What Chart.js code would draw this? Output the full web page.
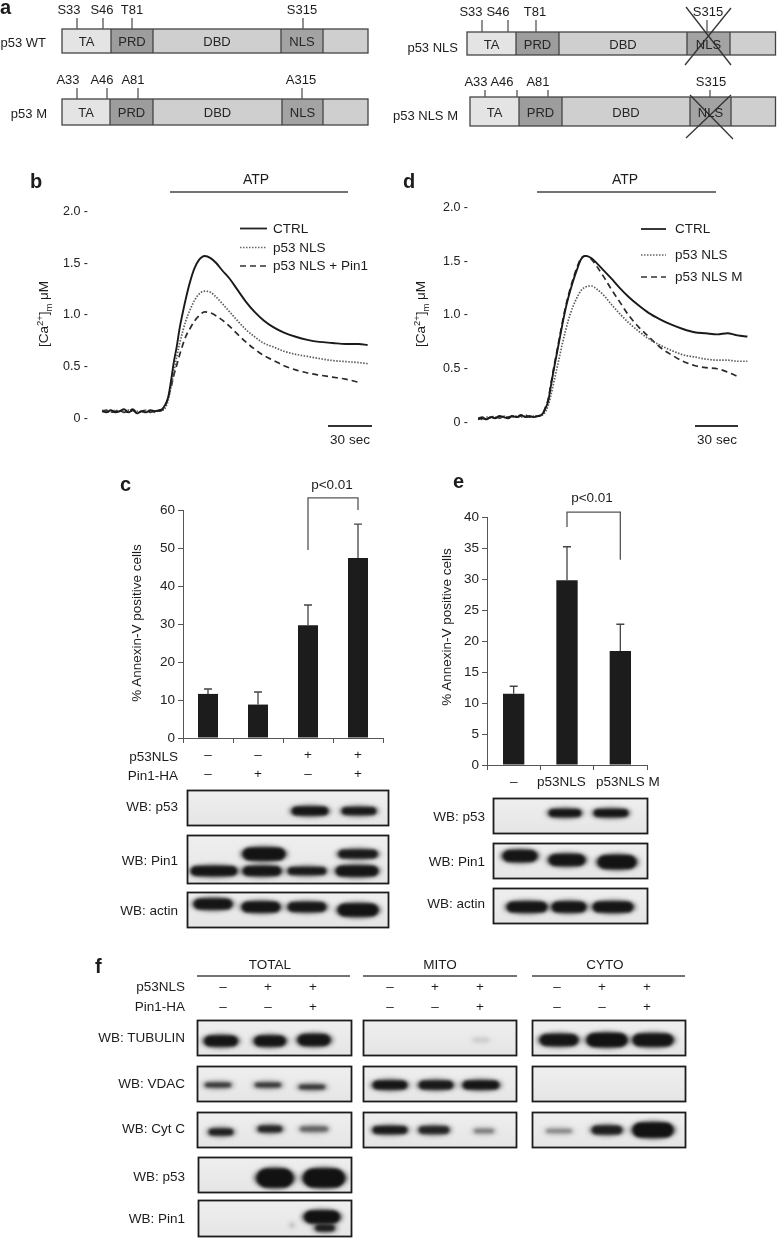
<!DOCTYPE html>
<html><head><meta charset="utf-8">
<script src="https://cdn.jsdelivr.net/npm/chart.js@4.4.1/dist/chart.umd.min.js"></script>
<style>
html,body{margin:0;padding:0;background:#fff}
#fig{position:relative;width:777px;height:1239px;overflow:hidden;font-family:'Liberation Sans',Arial,Helvetica,sans-serif;color:#1c1c1c;background:#fff}
.t{position:absolute;white-space:nowrap;line-height:1;}
canvas{position:absolute}
svg{position:absolute;left:0;top:0}
sup,sub{font-size:70%;line-height:0}
</style></head><body>
<div id="fig">
<canvas id="wb" width="777" height="1239" style="left:0;top:0"></canvas>
<canvas id="chB" width="340" height="250" style="left:40px;top:190px"></canvas>
<canvas id="chD" width="345" height="250" style="left:420px;top:190px"></canvas>
<canvas id="chC" width="300" height="310" style="left:90px;top:480px"></canvas>
<canvas id="chE" width="240" height="310" style="left:450px;top:490px"></canvas>
<svg id="deco" width="777" height="1239"></svg>
</div>
<script>
// ---------------- DATA ----------------
// panel b : mitochondrial Ca2+ traces (time in s, value in µM)
const timeB = [0,3,6,9,12,15,18,21,24,27,30,33,36,39,41,43,45,47,49,51,53,55,57,60,63,66,70,74,78,82,87,92,98,104,110,117,124,132,140,148,157,166,175,181];
const ctrlB = [0.07,0.06,0.08,0.06,0.07,0.09,0.06,0.08,0.05,0.07,0.06,0.08,0.07,0.08,
  0.09,0.13,0.2,0.36,0.55,0.7,0.88,1.02,1.15,
  1.32,1.45,1.53,1.57,1.55,1.5,1.43,1.35,1.25,1.13,
  1.03,0.95,0.88,0.83,0.79,0.76,0.74,0.73,0.72,0.72,0.71];
const nlsB = [0.08,0.07,0.06,0.08,0.07,0.06,0.08,0.07,0.07,0.06,0.08,0.07,0.06,0.08,
  0.08,0.1,0.17,0.3,0.45,0.6,0.73,0.84,0.94,
  1.05,1.14,1.2,1.23,1.22,1.17,1.11,1.03,0.95,0.86,
  0.79,0.73,0.69,0.65,0.62,0.6,0.58,0.56,0.55,0.54,0.53];
const nlsPin1B = [0.07,0.08,0.06,0.07,0.08,0.06,0.07,0.09,0.06,0.07,0.08,0.06,0.07,0.07,
  0.08,0.12,0.2,0.3,0.42,0.52,0.62,0.71,0.79,
  0.87,0.94,0.99,1.03,1.02,0.99,0.95,0.89,0.82,0.74,
  0.67,0.61,0.56,0.51,0.47,0.44,0.42,0.4,0.38,0.35,null];
const yTickLabelsB = ['0 -','0.5 -','1.0 -','1.5 -','2.0 -'];
const seriesNamesB = ['CTRL','p53 NLS','p53 NLS + Pin1'];

// panel d
const timeD = [0,3,6,9,12,15,18,21,24,27,30,33,36,39,42,45,47,49,51,53,55,57,59,61,63,66,69,72,75,79,83,88,93,99,105,112,119,127,135,143,151,159,167,174,181,188];
const ctrlD = [0.03,0.04,0.03,0.05,0.04,0.06,0.05,0.04,0.06,0.05,0.07,0.05,0.06,0.05,0.06,
  0.08,
  0.13,0.2,0.35,0.5,0.64,0.78,0.92,1.05,1.16,
  1.3,1.42,1.52,1.55,
  1.53,1.48,1.41,1.34,1.25,1.17,1.09,1.02,0.96,0.91,0.87,0.84,0.83,0.82,0.83,0.81,0.80];
const nlsD = [0.04,0.03,0.05,0.04,0.05,0.04,0.06,0.05,0.05,0.06,0.05,0.06,0.05,0.06,0.06,
  0.07,
  0.1,0.16,0.26,0.38,0.5,0.62,0.74,0.85,0.95,
  1.07,1.16,1.23,1.26,
  1.27,1.24,1.18,1.1,1.01,0.93,0.85,0.78,0.72,0.67,0.63,0.61,0.59,0.58,0.58,0.57,0.57];
const nlsMD = [0.04,0.05,0.04,0.05,0.06,0.04,0.06,0.05,0.06,0.05,0.06,0.07,0.05,0.06,0.06,
  0.08,
  0.14,0.22,0.37,0.52,0.66,0.8,0.94,1.07,1.18,
  1.32,1.44,1.53,1.55,
  1.52,1.45,1.35,1.24,1.12,1.0,0.89,0.8,0.7,0.63,0.57,0.53,0.51,0.5,0.47,0.43,null];
const yTickLabelsD = ['0 -','0.5 -','1.0 -','1.5 -','2.0 -'];
const seriesNamesD = ['CTRL','p53 NLS','p53 NLS M'];

// panel c : % Annexin-V positive cells
const categoriesC = [['–','–'],['–','+'],['+','–'],['+','+']];
const valuesC = [11.6, 8.8, 29.7, 47.4];
const errorsC = [1.3, 3.3, 5.3, 8.9];
// panel e
const categoriesE = ['–','p53NLS','p53NLS M'];
const valuesE = [11.5, 29.8, 18.4];
const errorsE = [1.2, 5.4, 4.3];

// panel f treatment signs
const fP53NLS = ['–','+','+'];
const fPin1HA = ['–','–','+'];

// western blot band intensities: one row per band level, one value per lane (0 = no band)
const wbC_p53   = [[0, 0, 0.95, 0.9]];
const wbC_pin1  = [[0, 0.97, 0, 0.9], [0.95, 0.95, 0.9, 0.95]];
const wbC_actin = [[0.95, 0.95, 0.93, 0.97]];
const wbE_p53   = [[0, 0.95, 0.95]];
const wbE_pin1  = [[0.95, 0.95, 0.97]];
const wbE_actin = [[0.95, 0.95, 0.95]];
const wbTot_tub  = [[0.95, 0.95, 0.95]];
const wbTot_vdac = [[0.7, 0.7, 0.7]];
const wbTot_cytc = [[0.85, 0.8, 0.45]];
const wbTot_p53  = [[0, 1, 1]];
const wbTot_pin1 = [[0, 0.3, 1], [0, 0, 0.85]];
const wbMito_tub  = [[0, 0, 0.08]];
const wbMito_vdac = [[0.95, 0.9, 0.95]];
const wbMito_cytc = [[0.9, 0.8, 0.35]];
const wbCyto_tub  = [[0.95, 1, 0.95]];
const wbCyto_vdac = [[0, 0, 0]];
const wbCyto_cytc = [[0.3, 0.85, 1]];

// ---------------- HELPERS ----------------
const fig = document.getElementById('fig');
function T(txt, x, y, o = {}) {
  const d = document.createElement('div');
  d.className = 't';
  d.innerHTML = txt;
  const a = o.a || 'c';
  const tx = a === 'l' ? '0' : a === 'r' ? '-100%' : '-50%';
  d.style.left = x + 'px'; d.style.top = y + 'px';
  d.style.fontSize = (o.s || 13.5) + 'px';
  if (o.b) d.style.fontWeight = 'bold';
  if (o.c) d.style.color = o.c;
  d.style.transform = `translate(${tx},-50%)` + (o.rot ? ' rotate(-90deg)' : '');
  fig.appendChild(d);
}
const NS = 'http://www.w3.org/2000/svg';
const svg = document.getElementById('deco');
function S(tag, attrs) {
  const e = document.createElementNS(NS, tag);
  for (const k in attrs) e.setAttribute(k, attrs[k]);
  svg.appendChild(e); return e;
}
function line(x1, y1, x2, y2, w = 1.2, col = '#444', dash) {
  const a = {x1, y1, x2, y2, stroke: col, 'stroke-width': w};
  if (dash) a['stroke-dasharray'] = dash;
  S('line', a);
}

// ---------------- PANEL a ----------------
const domFills = ['#e4e4e4', '#9d9d9d', '#cfcfcf', '#a3a3a3', '#cfcfcf'];
const domNames = ['TA', 'PRD', 'DBD', 'NLS'];
function domainBar(bounds, y, h, ticks, tickTop, siteLabels, labelX, rowLabel, rowLabelX, rowLabelY) {
  for (let i = 0; i < 5; i++) S('rect', {x: bounds[i], y, width: bounds[i + 1] - bounds[i], height: h, fill: domFills[i]});
  S('rect', {x: bounds[0], y, width: bounds[5] - bounds[0], height: h, fill: 'none', stroke: '#444', 'stroke-width': 1.3});
  for (let i = 1; i < 5; i++) line(bounds[i], y, bounds[i], y + h, 1.3, '#444');
  ticks.forEach(x => line(x, tickTop, x, y, 1.3, '#555'));
  domNames.forEach((n, i) => T(n, (bounds[i] + bounds[i + 1]) / 2, y + h / 2, {s: 13, c: '#262626'}));
  siteLabels.forEach((s, i) => T(s, labelX[i], tickTop - 9, {s: 13}));
  T(rowLabel, rowLabelX, rowLabelY, {a: 'r', s: 13});
}
T('a', 0, 7, {a: 'l', s: 20, b: true});
domainBar([62,111,153,281,323,368], 29, 24, [77,103,132,303], 18, ['S33','S46','T81','S315'], [69,102,132,302], 'p53 WT', 46, 42);
domainBar([62,110,153,282,323,368], 99, 26, [77,107,138,302], 88, ['A33','A46','A81','A315'], [68,102,133,301], 'p53 M', 47, 113);
domainBar([467,516,559,687,730,775.5], 32, 23, [482,508,536,707], 20, ['S33','S46','T81','S315'], [471,498,535,708], 'p53 NLS', 458, 47);
domainBar([470,519,562,690,731,775.5], 97, 29, [485,517,548,710], 90, ['A33','A46','A81','S315'], [476,502,538,711], 'p53 NLS M', 458, 115);
// crosses over deleted NLS
line(686, 7, 731, 65, 1.3, '#333'); line(731, 8, 685, 65, 1.3, '#333');
line(690, 95, 733, 139, 1.3, '#333'); line(731, 95, 686, 138, 1.3, '#333');

// ---------------- PANELS b / d decorations ----------------
T('b', 30, 180.5, {a: 'l', s: 20, b: true});
T('d', 403, 180.5, {a: 'l', s: 20, b: true});
T('ATP', 256, 179, {s: 14}); line(170, 192, 348, 192, 1.4, '#444');
T('ATP', 625, 179, {s: 14}); line(537, 192, 716, 192, 1.4, '#444');
const legendStyles = [{w: 1.8, col: '#222'}, {w: 1.6, col: '#666', dash: '1.5 1.5'}, {w: 1.7, col: '#333', dash: '6 4'}];
[228.5, 247.5, 266].forEach((y, i) => { const st = legendStyles[i]; line(240, y, 267, y, st.w, st.col, st.dash); T(seriesNamesB[i], 273, y, {a: 'l', s: 13.5}); });
[229, 255, 277].forEach((y, i) => { const st = legendStyles[i]; line(641, y, 666, y, st.w, st.col, st.dash); T(seriesNamesD[i], 675, y, {a: 'l', s: 13.5}); });
line(328, 426, 372, 426, 2, '#333'); T('30 sec', 350, 440, {s: 13.5});
line(695, 426, 738, 426, 2, '#333'); T('30 sec', 717, 440, {s: 13.5});
T('[Ca<sup>2+</sup>]<sub>m</sub> μM', 44, 314, {s: 13.5, rot: true});
T('[Ca<sup>2+</sup>]<sub>m</sub> μM', 421, 314, {s: 13.5, rot: true});

// ---------------- PANELS c / e decorations ----------------
T('c', 120, 484, {a: 'l', s: 20, b: true});
T('e', 453, 481, {a: 'l', s: 20, b: true});
T('p&lt;0.01', 332, 485, {s: 13.5});
T('p&lt;0.01', 592, 498, {s: 13.5});
T('% Annexin-V positive cells', 137, 623, {s: 13.5, rot: true});
T('% Annexin-V positive cells', 447, 627, {s: 13.5, rot: true});
T('p53NLS', 178, 757, {a: 'r', s: 13.5});
T('Pin1-HA', 178, 776, {a: 'r', s: 13.5});
T('WB: p53', 178, 807, {a: 'r', s: 13.5});
T('WB: Pin1', 178, 861, {a: 'r', s: 13.5});
T('WB: actin', 178, 911, {a: 'r', s: 13.5});
T('WB: p53', 485, 817, {a: 'r', s: 13.5});
T('WB: Pin1', 485, 862, {a: 'r', s: 13.5});
T('WB: actin', 485, 904, {a: 'r', s: 13.5});

// ---------------- PANEL f decorations ----------------
T('f', 95, 966, {a: 'l', s: 20, b: true});
const fGroups = [{name: 'TOTAL', cx: 270, x1: 197, x2: 350, lanes: [223,268,313]},
                 {name: 'MITO', cx: 440, x1: 363, x2: 517, lanes: [390,435,480]},
                 {name: 'CYTO', cx: 605, x1: 532, x2: 685, lanes: [557,602,647]}];
fGroups.forEach(g => {
  T(g.name, g.cx, 965, {s: 13.5});
  line(g.x1, 976, g.x2, 976, 1.3, '#444');
  g.lanes.forEach((x, i) => { T(fP53NLS[i], x, 987, {s: 13.5}); T(fPin1HA[i], x, 1007, {s: 13.5}); });
});
T('p53NLS', 185, 987, {a: 'r', s: 13.5});
T('Pin1-HA', 185, 1007, {a: 'r', s: 13.5});
[['WB: TUBULIN',1038],['WB: VDAC',1084],['WB: Cyt C',1129],['WB: p53',1177],['WB: Pin1',1219]].forEach(([s, y]) => T(s, 185, y, {a: 'r', s: 13.5}));

// ---------------- WESTERN BLOTS (canvas) ----------------
const wctx = document.getElementById('wb').getContext('2d');
function pick(v, i) { return Array.isArray(v) ? v[i] : v; }
function drawBlot(box, lanes, rows, intens) {
  const [bx, by, bw, bh] = box;
  wctx.save();
  const g = wctx.createLinearGradient(bx, by, bx, by + bh);
  g.addColorStop(0, '#efefef'); g.addColorStop(1, '#e5e5e5');
  wctx.fillStyle = g; wctx.fillRect(bx, by, bw, bh);
  wctx.beginPath(); wctx.rect(bx, by, bw, bh); wctx.clip();
  rows.forEach((r, ri) => {
    intens[ri].forEach((a, li) => {
      if (!a) return;
      const cx = r.x ? pick(r.x, li) : lanes[li];
      const cy = pick(r.y, li), h = pick(r.h, li) + 1.5, w = pick(r.w, li);
      wctx.filter = 'blur(2.6px)';
      wctx.fillStyle = `rgba(30,30,30,${a * 0.8})`;
      wctx.beginPath(); wctx.ellipse(cx, cy, w / 2 + 1, h / 2 + 1, 0, 0, Math.PI * 2); wctx.fill();
      wctx.filter = 'blur(1.4px)';
      wctx.fillStyle = `rgba(18,18,18,${a})`;
      wctx.beginPath(); wctx.roundRect(cx - w / 2 + 2, cy - h / 2 + 0.5, w - 4, h - 1, (h - 1) / 2); wctx.fill();
      wctx.filter = 'none';
    });
  });
  wctx.restore();
  wctx.save(); wctx.strokeStyle = '#1c1c1c'; wctx.lineWidth = 1.8;
  wctx.strokeRect(bx + 0.5, by + 0.5, bw - 1, bh - 1); wctx.restore();
}
// panel c blots
const lanesC = [212, 262, 308, 358];
drawBlot([187,790,202,36], lanesC, [{x: [212,262,310,359], y: 811, h: [8,8,8,7], w: [40,40,40,38]}], wbC_p53);
drawBlot([187,835,202,49], lanesC, [{x: [212,264,308,358], y: 854, h: [11,12,11,8], w: [44,46,44,43]}, {x: [214,262,307,357], y: 871, h: [9,9,7,10], w: [50,42,42,46]}], wbC_pin1);
drawBlot([187,892,202,36], lanesC, [{x: [213,261,307,358], y: [904,907,907,910], h: [10,10,9,12], w: [42,42,42,44]}], wbC_actin);
// panel e blots
const lanesE = [520, 566, 613];
drawBlot([493,798,155,36], lanesE, [{x: [520,565,611], y: 813, h: 7, w: [36,36,38]}], wbE_p53);
drawBlot([493,843,155,36], lanesE, [{x: [520,567,617], y: [856,860,862], h: [11,11,13], w: [38,40,42]}], wbE_pin1);
drawBlot([493,888,155,36], lanesE, [{x: [527,569,613], y: 907, h: 10, w: [44,38,44]}], wbE_actin);
// panel f blots
const lanesTot = [221, 270, 314], lanesMito = [390, 436, 481], lanesCyto = [559, 607, 653];
drawBlot([197,1020,155,36], lanesTot, [{y: [1041,1041,1040], h: [10,10,11], w: [37,35,36]}], wbTot_tub);
drawBlot([197,1066,155,36], lanesTot, [{x: [218,268,312], y: [1085,1085,1087], h: 4, w: 30}], wbTot_vdac);
drawBlot([197,1112,155,36], lanesTot, [{y: [1132,1129,1129], h: [6,6,5], w: [28,28,32]}], wbTot_cytc);
drawBlot([198,1157,154,36], lanesTot, [{x: [221,275,324], y: 1178, h: 18, w: [40,40,45]}], wbTot_p53);
drawBlot([198,1200,154,37], lanesTot, [{x: [221,292,322], y: [1217,1225,1217], h: [12,2,12], w: [36,3,39]}, {x: [221,270,325], y: 1228, h: 6, w: [20,20,23]}], wbTot_pin1);
drawBlot([363,1020,154,36], lanesMito, [{y: 1040, h: 4, w: 20}], wbMito_tub);
drawBlot([363,1066,154,36], lanesMito, [{y: 1085, h: 8, w: [38,38,40]}], wbMito_vdac);
drawBlot([363,1112,154,36], lanesMito, [{x: [390,434,484], y: [1130,1130,1131], h: [7,7,4], w: [38,34,24]}], wbMito_cytc);
drawBlot([532,1020,154,36], lanesCyto, [{y: 1040, h: [11,13,12], w: [42,44,44]}], wbCyto_tub);
drawBlot([532,1066,154,36], lanesCyto, [{y: 1085, h: 6, w: 30}], wbCyto_vdac);
drawBlot([532,1112,154,36], lanesCyto, [{y: [1131,1130,1130], h: [4,8,14], w: [30,34,44]}], wbCyto_cytc);

// ---------------- CHARTS ----------------
Chart.defaults.font.family = "'Liberation Sans', Arial, Helvetica, sans-serif";
Chart.defaults.color = '#1c1c1c';

const mk = (t, v) => t.map((x, i) => ({x, y: v[i]}));
const lineStyles = [
  {borderColor: '#1a1a1a', borderWidth: 1.9},
  {borderColor: '#5a5a5a', borderWidth: 1.7, borderDash: [1.5, 1.5]},
  {borderColor: '#2a2a2a', borderWidth: 1.7, borderDash: [6, 4]}
];
function lineChart(id, times, series, names, xMax, yWidth, tickPad, padRight, tickLabels) {
  return new Chart(document.getElementById(id), {
    type: 'line',
    data: {datasets: series.map((s, i) => Object.assign({label: names[i], data: mk(times, s), pointRadius: 0, cubicInterpolationMode: 'monotone', fill: false}, lineStyles[i]))},
    options: {
      responsive: false, animation: false,
      layout: {padding: {left: 0, top: 12, right: padRight, bottom: 13}},
      plugins: {legend: {display: false}, tooltip: {enabled: false}},
      scales: {
        x: {type: 'linear', min: 0, max: xMax, display: false},
        y: {min: 0, max: 2, afterFit(s) { s.width = yWidth; },
            grid: {display: false, drawTicks: false}, border: {display: false},
            ticks: {stepSize: 0.5, padding: tickPad, color: '#222', font: {size: 12.5}, callback: (v, i) => tickLabels[i]}}
      }
    }
  });
}
lineChart('chB', timeB, [ctrlB, nlsB, nlsPin1B], seriesNamesB, 184, 62, 14, 8, yTickLabelsB);
lineChart('chD', timeD, [ctrlD, nlsD, nlsMD], seriesNamesD, 193.3, 58, 10, 10, yTickLabelsD);

const errorBars = {
  id: 'errorBars',
  afterDatasetsDraw(chart, args, o) {
    if (!o || !o.errors) return;
    const ctx = chart.ctx, ys = chart.scales.y, meta = chart.getDatasetMeta(0), vals = chart.data.datasets[0].data;
    ctx.save(); ctx.strokeStyle = '#444'; ctx.lineWidth = 1.3;
    meta.data.forEach((el, i) => {
      const top = ys.getPixelForValue(vals[i] + o.errors[i]);
      ctx.beginPath();
      ctx.moveTo(el.x, el.y); ctx.lineTo(el.x, top);
      ctx.moveTo(el.x - 4, top); ctx.lineTo(el.x + 4, top);
      ctx.stroke();
    });
    ctx.restore();
  }
};
const sigBracket = {
  id: 'sigBracket',
  afterDraw(chart, args, o) {
    if (!o || o.from === undefined) return;
    const ctx = chart.ctx, ys = chart.scales.y, meta = chart.getDatasetMeta(0);
    const x1 = meta.data[o.from].x, x2 = meta.data[o.to].x;
    const yt = ys.getPixelForValue(o.top), y1 = ys.getPixelForValue(o.leftEnd), y2 = ys.getPixelForValue(o.rightEnd);
    ctx.save(); ctx.strokeStyle = '#555'; ctx.lineWidth = 1.3;
    ctx.beginPath(); ctx.moveTo(x1, y1); ctx.lineTo(x1, yt); ctx.lineTo(x2, yt); ctx.lineTo(x2, y2); ctx.stroke();
    ctx.restore();
  }
};
// horizontal nudges (in spaces) for crowded category labels
function spaced(label, shift) {
  if (!shift || Array.isArray(label)) return label;
  const pad = ' '.repeat(Math.abs(shift));
  return shift > 0 ? pad + label : label + pad;
}
function barChart(id, cats, vals, errs, yMax, step, yWidth, padTop, padRight, xHeight, xFont, xPad, bracket, nudges) {
  return new Chart(document.getElementById(id), {
    type: 'bar',
    data: {labels: cats, datasets: [{data: vals, backgroundColor: '#1c1c1c', borderWidth: 0, barPercentage: 0.4, categoryPercentage: 1}]},
    plugins: [errorBars, sigBracket],
    options: {
      responsive: false, animation: false,
      layout: {padding: {left: 0, top: padTop, right: padRight, bottom: 0}},
      plugins: {legend: {display: false}, tooltip: {enabled: false}, errorBars: {errors: errs}, sigBracket: bracket},
      scales: {
        x: {offset: true, afterFit(s) { s.height = xHeight; },
            grid: {display: true, offset: true, drawOnChartArea: false, drawTicks: true, tickLength: 5, color: '#555', lineWidth: 1},
            border: {display: true, color: '#555', width: 1},
            ticks: {color: '#1c1c1c', font: xFont, padding: xPad, maxRotation: 0, autoSkip: false,
                    callback: function (v, i) { return spaced(this.getLabelForValue(v), nudges ? nudges[i] : 0); }}},
        y: {min: 0, max: yMax, afterFit(s) { s.width = yWidth; },
            grid: {display: true, drawOnChartArea: false, drawTicks: true, tickLength: 5, color: '#555', lineWidth: 1},
            border: {display: true, color: '#555', width: 1},
            ticks: {stepSize: step, padding: 3, color: '#222', font: {size: 13.5}}}
      }
    }
  });
}
barChart('chC', categoriesC, valuesC, errorsC, 60, 10, 93, 30, 7, 52, {size: 13.5, lineHeight: 1.42}, 2.5,
  {from: 2, to: 3, top: 63.2, leftEnd: 49.5, rightEnd: 60}, null);
barChart('chE', categoriesE, valuesE, errorsE, 40, 5, 37, 27, 43, 35, {size: 13.5}, 4,
  {from: 1, to: 2, top: 40.8, leftEnd: 38.4, rightEnd: 33.1}, [0, -3, 4]);
</script>
</body></html>
